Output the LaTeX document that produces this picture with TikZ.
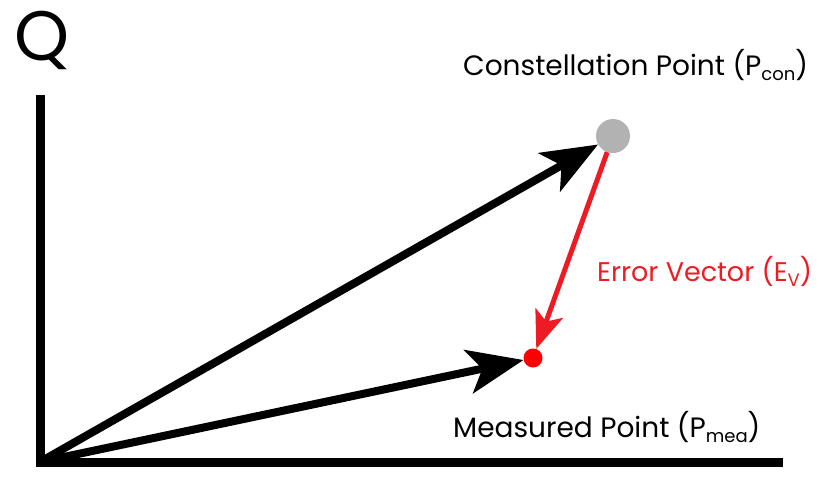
\documentclass[tikz,border=0pt]{standalone}
\usepackage{fontspec}
\setmainfont{Poppins}
\usepackage{xcolor}
\usepackage{tikz}
\usetikzlibrary{arrows.meta}
\definecolor{errred}{RGB}{237,28,36}
\definecolor{dotgray}{RGB}{178,178,178}
\newcommand{\lowtext}[1]{\raisebox{-5pt}{\fontsize{18}{18}\selectfont #1}}

\begin{document}
\begin{tikzpicture}[x=1pt, y=-1pt,
    ax/.style={line width=9pt},
    vec/.style={line width=8pt, -{Stealth[length=56pt, width=44pt, inset=14pt]}},
    err/.style={line width=5pt, errred, -{Stealth[length=38pt, width=29pt, inset=9pt]}},
    lbl/.style={anchor=base west, inner sep=0pt, font=\fontsize{28}{32}\selectfont}]
    \useasboundingbox (0,0) rectangle (819,482);
    % axes
    \coordinate (o) at (40,462);
    \coordinate (qtop) at (40,95);
    \coordinate (iend) at (783,462);
    \draw[ax] (qtop) -- (o) -- (iend);
    \node[inner sep=0pt, font=\fontsize{70}{70}\selectfont] (q) at (42,40) {Q};
    % points
    \node[circle, fill=dotgray, minimum size=34pt, inner sep=0pt] (con) at (613,136) {};
    \node[circle, fill=red, minimum size=19pt, inner sep=0pt] (mea) at (533,358) {};
    \draw[vec] (o) -- (con);
    \draw[vec] (o) -- (mea);
    \draw[err] (con) -- (mea);
    % labels
    \node[lbl] (conlbl) at (463,75) {Constellation Point (P\lowtext{con})};
    \node[lbl, errred, font=\fontsize{27}{32}\selectfont] (evlbl) at (597,281) {Error Vector (E\lowtext{V})};
    \node[lbl] (mealbl) at (453,437) {Measured Point (P\lowtext{mea})};
\end{tikzpicture}
\end{document}
